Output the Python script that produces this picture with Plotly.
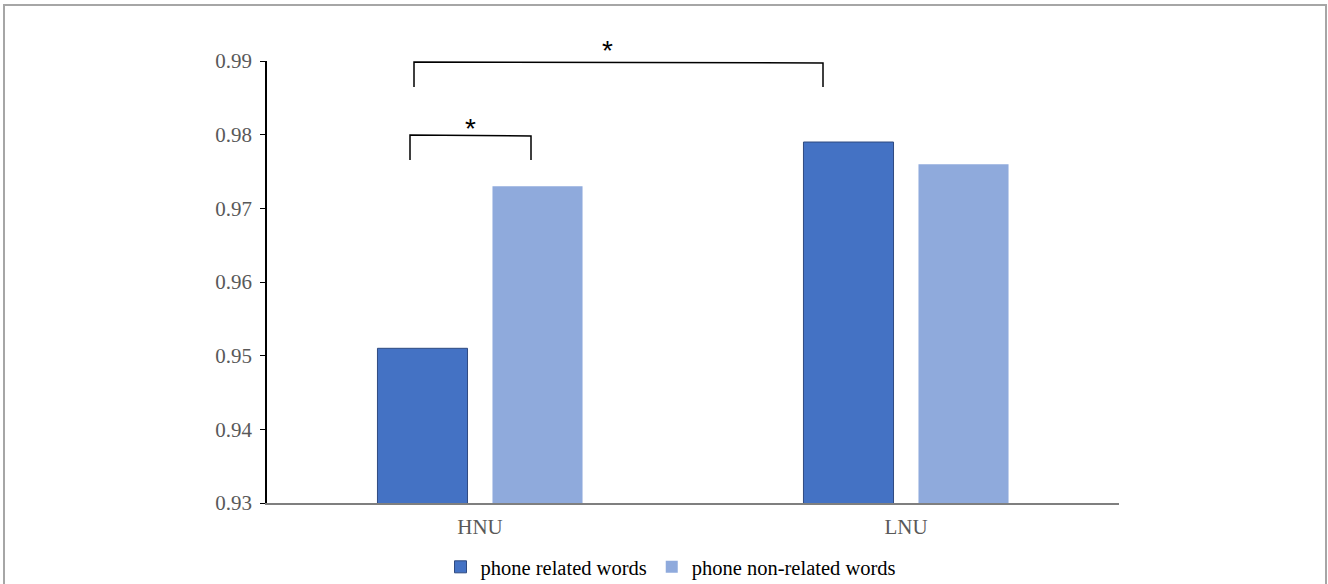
import plotly.graph_objects as go

categories = ["HNU", "LNU"]
related = [0.951, 0.979]
non_related = [0.973, 0.976]
y_ticks = [0.93, 0.94, 0.95, 0.96, 0.97, 0.98, 0.99]

W, H = 1328, 584
L, R, T, B = 267, 1119, 61, 503
pw, ph = R - L, B - T

fig = go.Figure()
fig.add_trace(go.Bar(x=categories, y=related, name="phone related words",
                     marker=dict(color="#4472C4", line=dict(color="#2F4A80", width=1))))
fig.add_trace(go.Bar(x=categories, y=non_related, name="phone non-related words",
                     marker=dict(color="#8FAADC", line=dict(width=0))))

def px2x(px):
    return (px - (L + pw / 4)) / (pw / 2)

def py2y(py):
    return 0.99 - (py - T) / ph * 0.06

def ppx(px):
    return (px - L) / pw

def ppy(py):
    return (B - py) / ph

shapes = []
# significance brackets
for x0, x1, ytop, ybot in [(410, 531, 135, 160), (414, 823, 62, 87)]:
    shapes.append(dict(type="path", xref="x", yref="y",
                       path=f"M {px2x(x0)},{py2y(ybot)} L {px2x(x0)},{py2y(ytop)} L {px2x(x1)},{py2y(ytop+1)} L {px2x(x1)},{py2y(ybot)}",
                       line=dict(color="black", width=1.5)))
# outer frame
shapes.append(dict(type="rect", xref="paper", yref="paper",
                   x0=ppx(4), x1=ppx(1326), y0=ppy(600), y1=ppy(5),
                   line=dict(color="#A6A6A6", width=2), fillcolor="rgba(0,0,0,0)", layer="below"))

annotations = [
    dict(x=px2x(470), y=ppy(146), xref="x", yref="paper", text="*", showarrow=False,
         font=dict(family="Liberation Sans", size=28, color="black")),
    dict(x=px2x(607), y=ppy(68), xref="x", yref="paper", text="*", showarrow=False,
         font=dict(family="Liberation Sans", size=28, color="black")),
]
for a in annotations:
    a["yanchor"] = "bottom"

fig.update_layout(
    width=W, height=H,
    margin=dict(l=L, r=W - R, t=T, b=H - B, pad=0, autoexpand=False),
    paper_bgcolor="white", plot_bgcolor="white",
    barmode="group", bargap=0.46, bargroupgap=0.217,
    font=dict(family="Liberation Serif", size=21, color="#595959"),
    showlegend=True,
    legend=dict(orientation="h", x=ppx(671), xanchor="center", y=ppy(567), yanchor="middle",
                font=dict(family="Liberation Serif", size=20.5, color="black"),
                itemwidth=30, traceorder="normal"),
    shapes=shapes, annotations=annotations,
)
fig.update_xaxes(showline=True, linecolor="#7F7F7F", linewidth=1.5, ticks="outside",
                 ticklen=4, tickcolor="rgba(0,0,0,0)",
                 tickfont=dict(family="Liberation Serif", size=21, color="#595959"),
                 showgrid=False)
fig.update_yaxes(range=[0.93, 0.99], tickvals=y_ticks, ticktext=[f"{v:.2f}" for v in y_ticks],
                 showline=True, linecolor="black", linewidth=1.5, ticks="outside",
                 ticklen=5, tickcolor="black", showgrid=False, zeroline=False,
                 ticklabelstandoff=4,
                 tickfont=dict(family="Liberation Serif", size=21, color="#595959"))

fig.write_html("out.html", config={"displayModeBar": False},
               post_script="document.body.style.margin='0';")
